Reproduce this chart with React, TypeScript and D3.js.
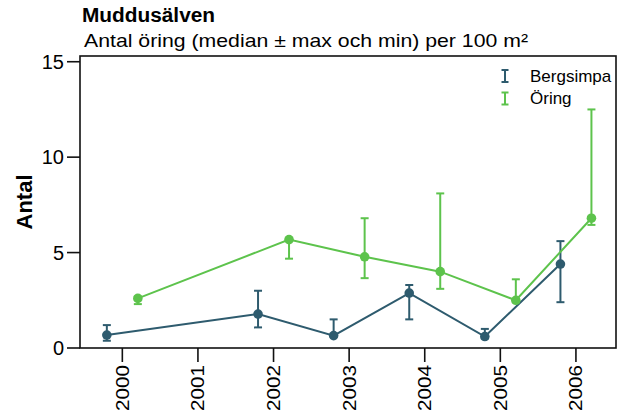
import { scaleLinear, line } from "d3";

const width = 622;
const height = 414;

const years = [2000, 2002, 2003, 2004, 2005, 2006];
const yearTicks = [2000, 2001, 2002, 2003, 2004, 2005, 2006];
const yTicks = [0, 5, 10, 15];

const bergsimpaMedian = [0.68, 1.78, 0.65, 2.88, 0.6, 4.4];
const bergsimpaMax = [1.2, 3.0, 1.5, 3.3, 1.0, 5.6];
const bergsimpaMin = [0.38, 1.08, 0.6, 1.5, 0.5, 2.4];

const oringMedian = [2.6, 5.68, 4.78, 4.0, 2.5, 6.8];
const oringMax = [2.7, 5.7, 6.8, 8.1, 3.6, 12.5];
const oringMin = [2.3, 4.68, 3.66, 3.1, 2.4, 6.45];

const series = [
  { name: "Bergsimpa", color: "#2e5b6e", offset: -0.205, median: bergsimpaMedian, max: bergsimpaMax, min: bergsimpaMin },
  { name: "Öring", color: "#5dc34c", offset: 0.205, median: oringMedian, max: oringMax, min: oringMin },
];

const plot = { left: 80, right: 616, top: 56, bottom: 348 };
const font = '"Liberation Sans", Arial, sans-serif';

function App() {
  const x = scaleLinear().domain([1999.44, 2006.53]).range([plot.left, plot.right]);
  const y = scaleLinear().domain([0, 15.3]).range([plot.bottom, plot.top]);
  const capW = 4;

  return (
    <svg
      width={width}
      height={height}
      fontFamily={font}
      style={{ position: "absolute", left: 0, top: 0, background: "white" }}
    >
      <text x={82} y={21.5} fontSize={20} fontWeight={700} textLength={133} lengthAdjust="spacingAndGlyphs">
        Muddusälven
      </text>
      <text x={84} y={46.5} fontSize={18.5} textLength={444} lengthAdjust="spacingAndGlyphs">
        Antal öring (median ± max och min) per 100 m²
      </text>

      {series.map((s) => {
        const pts: [number, number][] = years.map((yr, i) => [x(yr + s.offset), y(s.median[i])]);
        return (
          <g key={s.name}>
            <path d={line()(pts) ?? ""} fill="none" stroke={s.color} strokeWidth={2} />
            {years.map((yr, i) => {
              const cx = x(yr + s.offset);
              return (
                <g key={yr} stroke={s.color} strokeWidth={2}>
                  <line x1={cx} x2={cx} y1={y(s.max[i])} y2={y(s.min[i])} />
                  <line x1={cx - capW} x2={cx + capW} y1={y(s.max[i])} y2={y(s.max[i])} />
                  <line x1={cx - capW} x2={cx + capW} y1={y(s.min[i])} y2={y(s.min[i])} />
                  <circle cx={cx} cy={y(s.median[i])} r={4.8} fill={s.color} stroke="none" />
                </g>
              );
            })}
          </g>
        );
      })}

      <rect
        x={plot.left}
        y={plot.top}
        width={plot.right - plot.left}
        height={plot.bottom - plot.top}
        fill="none"
        stroke="#111"
        strokeWidth={1.6}
      />

      {yTicks.map((t) => (
        <g key={t} transform={`translate(0, ${y(t)})`}>
          <line x1={plot.left - 13} x2={plot.left} stroke="#111" strokeWidth={1.6} />
          <text x={plot.left - 16} dy="0.35em" textAnchor="end" fontSize={20}>
            {t}
          </text>
        </g>
      ))}

      {yearTicks.map((t) => (
        <g key={t} transform={`translate(${x(t)}, ${plot.bottom})`}>
          <line y1={0} y2={14} stroke="#111" strokeWidth={1.6} />
          <text
            transform="translate(0, 17) rotate(-90)"
            dy="0.35em"
            textAnchor="end"
            fontSize={18.5}
            textLength={46}
            lengthAdjust="spacingAndGlyphs"
          >
            {t}
          </text>
        </g>
      ))}

      <text
        transform={`translate(32, ${(plot.top + plot.bottom) / 2}) rotate(-90)`}
        textAnchor="middle"
        fontSize={22}
        fontWeight={700}
      >
        Antal
      </text>

      {series.map((s, i) => {
        const ly = 76 + i * 22.5;
        return (
          <g key={s.name}>
            <g stroke={s.color} strokeWidth={2}>
              <line x1={505} x2={505} y1={ly - 6} y2={ly + 6} />
              <line x1={501.5} x2={508.5} y1={ly - 6} y2={ly - 6} />
              <line x1={501.5} x2={508.5} y1={ly + 6} y2={ly + 6} />
            </g>
            <text x={530} y={ly} dy="0.35em" fontSize={17}>
              {s.name}
            </text>
          </g>
        );
      })}
    </svg>
  );
}

export default App;
